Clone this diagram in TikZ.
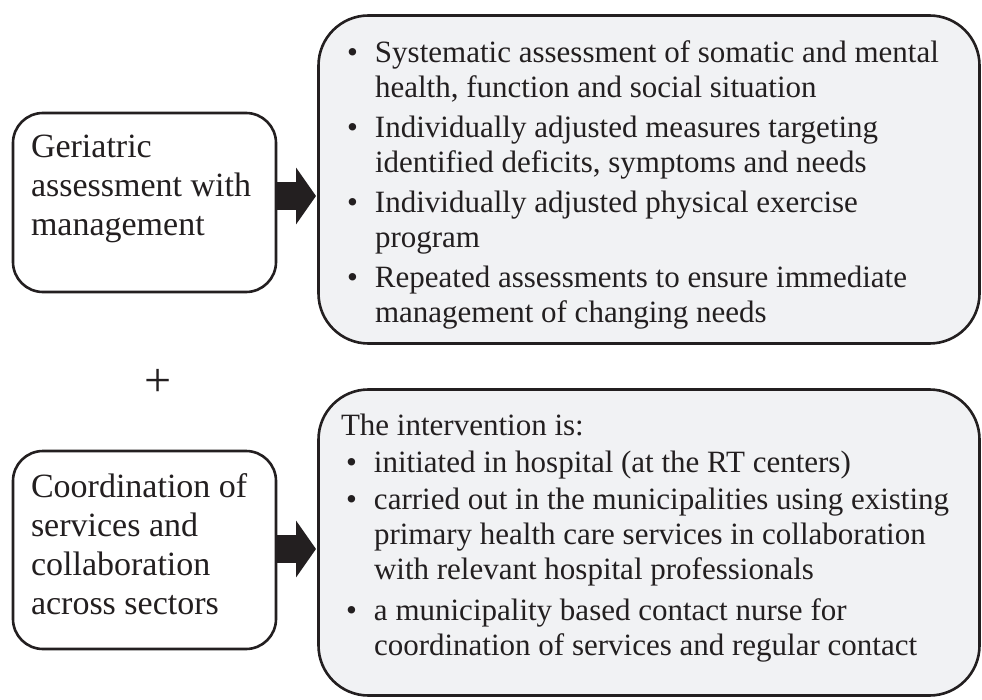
\documentclass[tikz,border=0pt]{standalone}
\usepackage{fontspec}
\setmainfont{Liberation Serif}
\usetikzlibrary{arrows.meta}
\definecolor{ink}{HTML}{231F20}
\definecolor{panel}{HTML}{F1F2F4}
% bullet row and continuation row for the list panels
\newcommand{\blt}[1]{\makebox[#1][l]{\textbullet}}
\begin{document}
\begin{tikzpicture}[x=1pt,y=-1pt,
  every node/.style={inner sep=0pt, outer sep=0pt, text=ink},
  leftbox/.style={draw=ink, line width=2.6pt, rounded corners=30pt, fill=white},
  rightbox/.style={draw=ink, line width=2.6pt, rounded corners=50pt, fill=panel},
  bigarrow/.style={draw=ink, line width=28pt, -{Triangle[length=20pt,width=56pt]}},
  bodytext/.style={anchor=north west, align=left, font=\fontsize{31}{35}\selectfont},
  sidetext/.style={anchor=north west, align=left, font=\fontsize{34}{39}\selectfont}]
\useasboundingbox (0,0) rectangle (982,700);

% the four boxes
\node[leftbox, minimum width=263pt, minimum height=179pt] (ga) at (144.5,202.5) {};
\node[rightbox, minimum width=661pt, minimum height=328pt] (gm) at (649,179.5) {};
\node[leftbox, minimum width=263pt, minimum height=198pt] (co) at (144.5,550) {};
\node[rightbox, minimum width=661pt, minimum height=306pt] (iv) at (649,542.5) {};

% box texts
\node[sidetext] (gatext) at (31,130.2) {\begin{tabular}{@{}l@{}}
Geriatric\\ assessment with\\ management\end{tabular}};
\node[sidetext] (cotext) at (31,469.7) {\begin{tabular}{@{}l@{}}
Coordination of\\ services and\\ collaboration\\ across sectors\end{tabular}};

\node[bodytext] (gmtext) at (347,38.5) {\begin{tabular}{@{}l@{}}
\blt{28pt}Systematic assessment of somatic and mental\\
\hspace*{28pt}health, function and social situation\\[5pt]
\blt{28pt}Individually adjusted measures targeting\\
\hspace*{28pt}identified deficits, symptoms and needs\\[5pt]
\blt{28pt}Individually adjusted physical exercise\\
\hspace*{28pt}program\\[5pt]
\blt{28pt}Repeated assessments to ensure immediate\\
\hspace*{28pt}management of changing needs
\end{tabular}};

\node[bodytext] (ivtext) at (341,410.5) {\begin{tabular}{@{}l@{}}
The intervention is:\\[2pt]
\hspace*{5pt}\blt{28pt}initiated in hospital (at the RT centers)\\[2pt]
\hspace*{5pt}\blt{28pt}carried out in the municipalities using existing\\
\hspace*{33pt}primary health care services in collaboration\\
\hspace*{33pt}with relevant hospital professionals\\[6pt]
\hspace*{5pt}\blt{28pt}a municipality based contact nurse for\\
\hspace*{33pt}coordination of services and regular contact
\end{tabular}};

% plus sign between the two rows
\node (plus) at (158.5,383) {\fontsize{48}{48}\selectfont +};

% block arrows from the left boxes into the panels
\coordinate (a1) at ([yshift=6.5pt]ga.east);
\coordinate (b1) at ([xshift=-2.5pt]a1 -| gm.west);
\draw[bigarrow] (a1) -- (b1);
\coordinate (a2) at ([yshift=1pt]co.east);
\coordinate (b2) at ([xshift=-2.5pt]a2 -| iv.west);
\draw[bigarrow] (a2) -- (b2);
\end{tikzpicture}
\end{document}
